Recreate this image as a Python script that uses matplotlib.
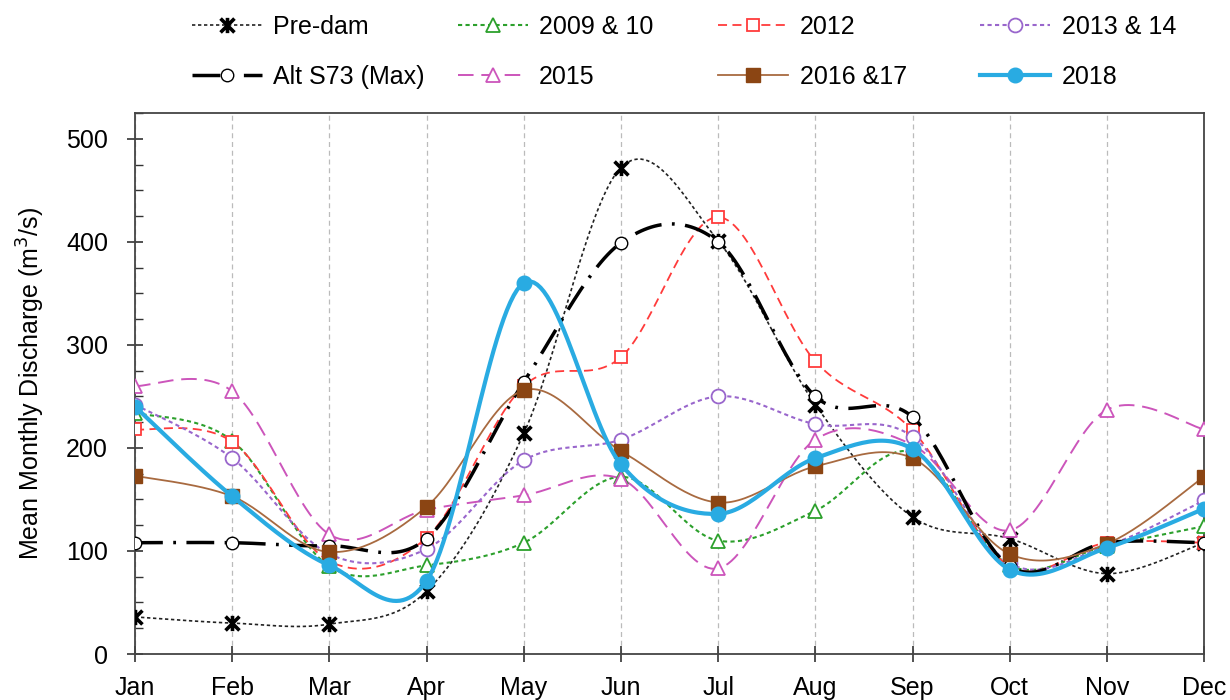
import numpy as np
import matplotlib
matplotlib.use("Agg")
import matplotlib.pyplot as plt
from matplotlib.path import Path
from matplotlib.ticker import MultipleLocator

plt.rcParams['font.family'] = ['Liberation Sans', 'DejaVu Sans']

months = ['Jan', 'Feb', 'Mar', 'Apr', 'May', 'Jun', 'Jul', 'Aug', 'Sep', 'Oct', 'Nov', 'Dec']
pre_dam = [36, 30, 29, 61, 214, 472, 401, 242, 133, 112, 78, 108]
y2009_10 = [234, 207, 85, 86, 108, 172, 110, 139, 196, 86, 105, 124]
y2012 = [218, 206, 90, 113, 260, 288, 424, 284, 217, 85, 108, 108]
y2013_14 = [242, 190, 97, 102, 188, 208, 250, 223, 211, 88, 105, 149]
alt_s73 = [108, 108, 105, 112, 264, 399, 400, 250, 230, 85, 108, 108]
y2015 = [260, 255, 116, 140, 154, 170, 83, 208, 203, 120, 237, 218]
y2016_17 = [173, 153, 99, 143, 256, 197, 147, 182, 190, 97, 107, 172]
y2018 = [240, 153, 86, 71, 360, 184, 136, 190, 199, 82, 103, 141]


def smooth(x, y, n=30):
    x = np.asarray(x, float)
    y = np.asarray(y, float)
    pts = np.column_stack([x, y])
    P = np.vstack([pts[0], pts, pts[-1]])
    out = []
    t = np.linspace(0, 1, n)
    for i in range(1, len(P) - 2):
        p0, p1, p2, p3 = P[i - 1], P[i], P[i + 1], P[i + 2]
        c1 = p1 + (p2 - p0) / 6.0
        c2 = p2 - (p3 - p1) / 6.0
        seg = ((1 - t) ** 3)[:, None] * p1 + (3 * (1 - t) ** 2 * t)[:, None] * c1 \
            + (3 * (1 - t) * t ** 2)[:, None] * c2 + (t ** 3)[:, None] * p2
        out.append(seg if i == 1 else seg[1:])
    s = np.vstack(out)
    return s[:, 0], s[:, 1]


star = Path([(-1, -1), (1, 1), (-1, 1), (1, -1), (0, -1.1), (0, 1.1)],
            [Path.MOVETO, Path.LINETO, Path.MOVETO, Path.LINETO, Path.MOVETO, Path.LINETO])

series = [
    ('Pre-dam', pre_dam, dict(color='#222222', ls=(0, (2, 1.6)), lw=1.2),
     dict(marker=star, ms=11, mfc='black', mec='black', mew=2.6)),
    ('Alt S73 (Max)', alt_s73, dict(color='black', ls=(0, (8, 3, 0.8, 3)), lw=2.5),
     dict(marker='o', ms=9, mfc='white', mec='black', mew=1.0)),
    ('2009 & 10', y2009_10, dict(color='#2CA02C', ls=(0, (2, 1.6)), lw=1.5),
     dict(marker='^', ms=10, mfc='white', mec='#2CA02C', mew=1.3)),
    ('2015', y2015, dict(color='#CC55BB', ls=(0, (8, 4)), lw=1.4),
     dict(marker='^', ms=10, mfc='white', mec='#CC55BB', mew=1.3)),
    ('2012', y2012, dict(color='#FF3B3B', ls=(0, (5, 3)), lw=1.3),
     dict(marker='s', ms=9, mfc='white', mec='#FF3B3B', mew=1.3)),
    ('2016 &17', y2016_17, dict(color='#A86A40', ls='-', lw=1.3),
     dict(marker='s', ms=10, mfc='#8B4513', mec='#8B4513', mew=1.0)),
    ('2013 & 14', y2013_14, dict(color='#9966CC', ls=(0, (2, 1.6)), lw=1.5),
     dict(marker='o', ms=10, mfc='white', mec='#9966CC', mew=1.3)),
    ('2018', y2018, dict(color='#29ABE2', ls='-', lw=3.0),
     dict(marker='o', ms=10.5, mfc='#29ABE2', mec='#29ABE2', mew=1.0)),
]

fig = plt.figure(figsize=(12.3, 7.0), dpi=100)
ax = fig.add_axes([0.1098, 0.0657, 0.8691, 0.7729])

xs = np.arange(len(months))
zorders = {'Pre-dam': 3, 'Alt S73 (Max)': 4, '2009 & 10': 3, '2015': 3, '2012': 3,
           '2016 &17': 4, '2013 & 14': 3, '2018': 5}
handles = []
for name, vals, lstyle, mstyle in series:
    sx, sy = smooth(xs, vals)
    z = zorders[name]
    ax.plot(sx, sy, zorder=z, **lstyle)
    ax.plot(xs, vals, ls='none', zorder=z + 0.5, **mstyle)
    h, = ax.plot([], [], label=name, **lstyle, **mstyle)
    handles.append(h)

FS = 18
ax.set_xlim(0, 11)
ax.set_ylim(0, 525)
ax.set_xticks(xs)
ax.set_xticklabels(months, fontsize=FS)
ax.yaxis.set_major_locator(MultipleLocator(100))
ax.yaxis.set_minor_locator(MultipleLocator(25))
ax.tick_params(axis='both', which='major', direction='inout', length=11, width=1.2,
               labelsize=FS, colors='#333333', labelcolor='black')
ax.tick_params(axis='y', which='minor', direction='in', length=6, width=1.0, colors='#333333')
ax.tick_params(axis='x', pad=10)
ax.tick_params(axis='y', pad=14)
for sp in ax.spines.values():
    sp.set_linewidth(1.3)
    sp.set_color('#444444')
ax.grid(axis='x', ls=(0, (4, 3)), color='#BBBBBB', lw=0.9)
ax.set_axisbelow(True)
ax.set_ylabel('Mean Monthly Discharge (m$^3$/s)', fontsize=FS, labelpad=14)

col_x = [0.150, 0.366, 0.578, 0.791]
for c in range(4):
    fig.legend(handles=handles[2 * c:2 * c + 2], loc='upper left',
               bbox_to_anchor=(col_x[c], 0.99), ncol=1, frameon=False, fontsize=FS,
               handlelength=2.8, handletextpad=0.45, labelspacing=1.05,
               borderaxespad=0.0, borderpad=0.3)

fig.savefig('out.png', dpi=100)
